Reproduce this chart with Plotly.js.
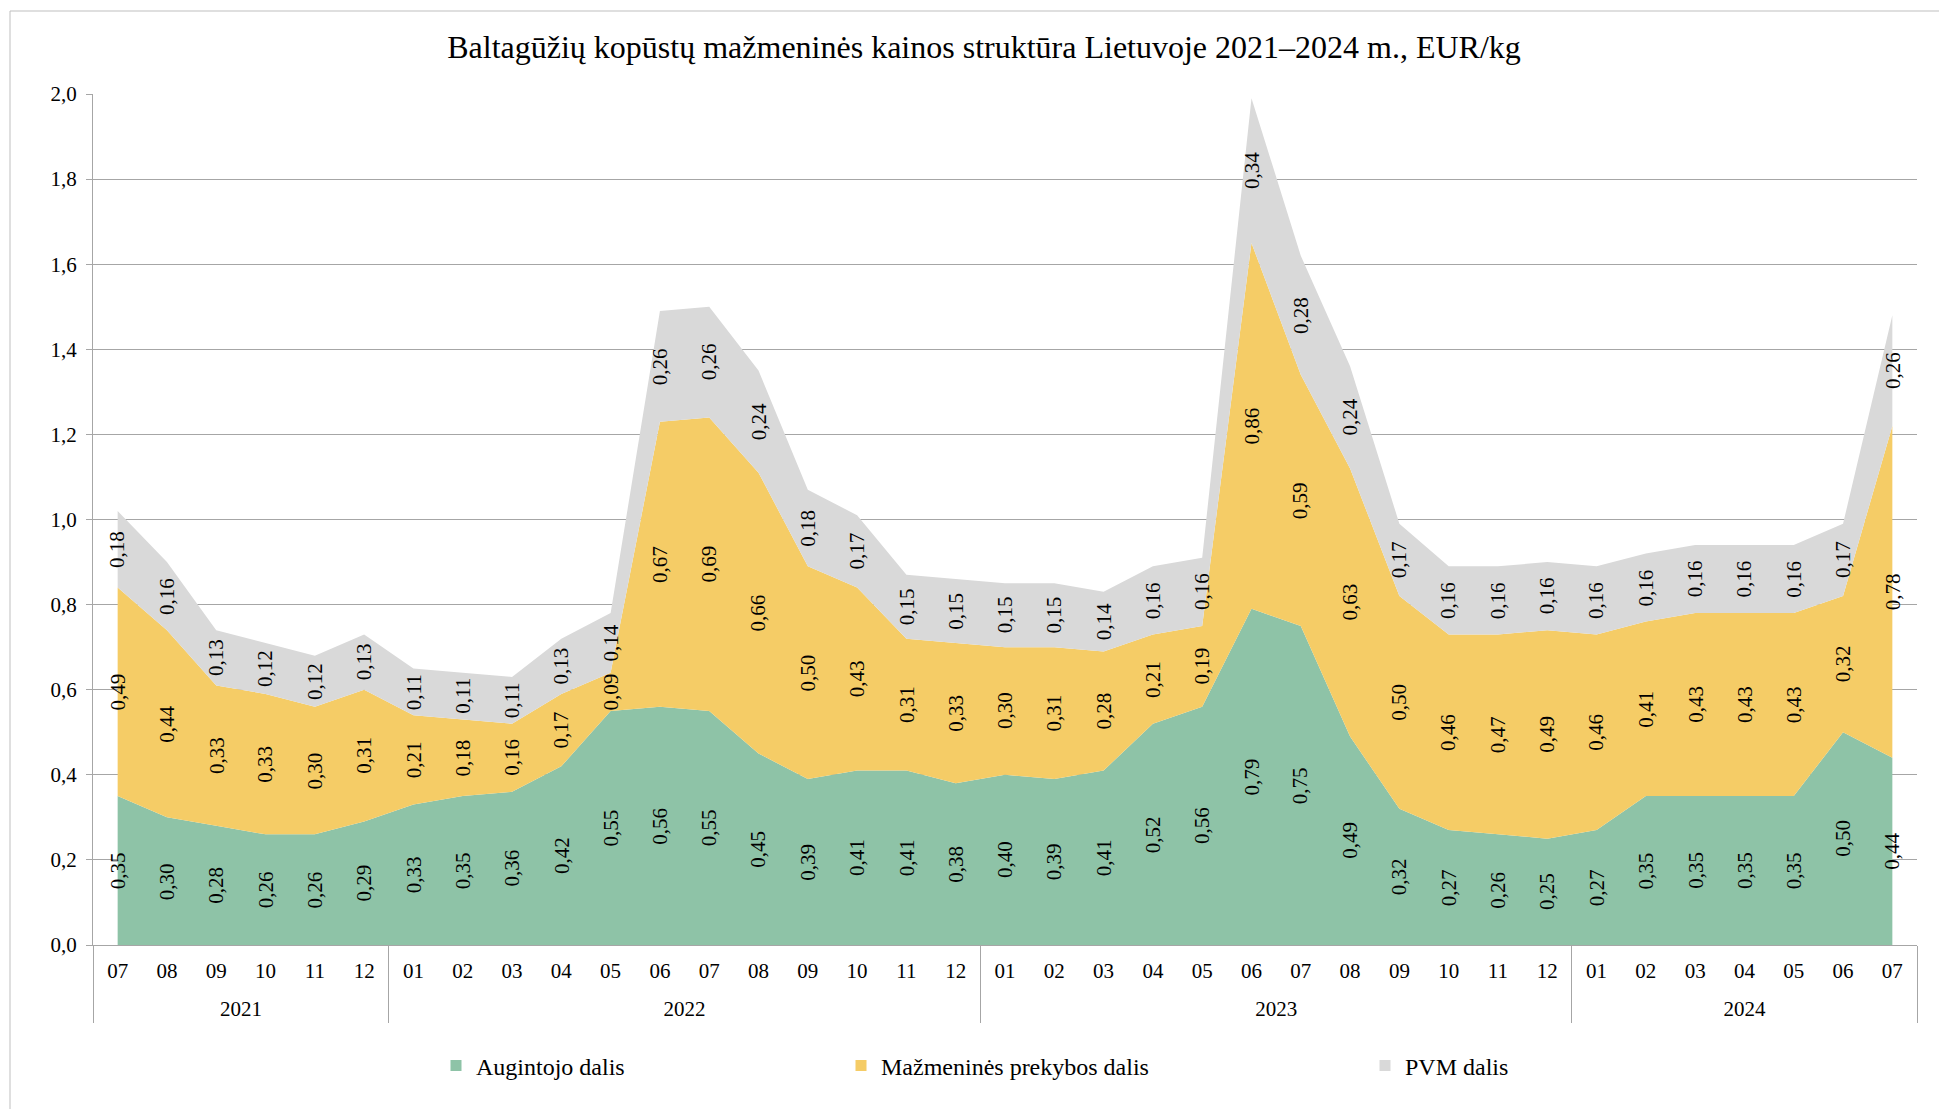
<!DOCTYPE html>
<html>
<head>
<meta charset="utf-8">
<script src="https://cdn.plot.ly/plotly-3.0.1.min.js"></script>
<style>
html, body { margin: 0; padding: 0; background: #fff; }
#plot { width: 1939px; height: 1109px; }
</style>
</head>
<body>
<div id="plot"></div>
<script>
// Metai ir mėnesių skaičius kiekvienais metais
const yearGroups = ['2021', '2022', '2023', '2024'];
const monthsInYear = [6, 12, 12, 7];
const months = [
    '07', '08', '09', '10', '11', '12',
    '01', '02', '03', '04', '05', '06', '07', '08', '09', '10', '11', '12',
    '01', '02', '03', '04', '05', '06', '07', '08', '09', '10', '11', '12',
    '01', '02', '03', '04', '05', '06', '07'
];

// Kainos dalys, EUR/kg
const augintojo = [
    0.35, 0.30, 0.28, 0.26, 0.26, 0.29,
    0.33, 0.35, 0.36, 0.42, 0.55, 0.56, 0.55, 0.45, 0.39, 0.41, 0.41, 0.38,
    0.40, 0.39, 0.41, 0.52, 0.56, 0.79, 0.75, 0.49, 0.32, 0.27, 0.26, 0.25,
    0.27, 0.35, 0.35, 0.35, 0.35, 0.50, 0.44
];
const mazmenine = [
    0.49, 0.44, 0.33, 0.33, 0.30, 0.31,
    0.21, 0.18, 0.16, 0.17, 0.09, 0.67, 0.69, 0.66, 0.50, 0.43, 0.31, 0.33,
    0.30, 0.31, 0.28, 0.21, 0.19, 0.86, 0.59, 0.63, 0.50, 0.46, 0.47, 0.49,
    0.46, 0.41, 0.43, 0.43, 0.43, 0.32, 0.78
];
const pvm = [
    0.18, 0.16, 0.13, 0.12, 0.12, 0.13,
    0.11, 0.11, 0.11, 0.13, 0.14, 0.26, 0.26, 0.24, 0.18, 0.17, 0.15, 0.15,
    0.15, 0.15, 0.14, 0.16, 0.16, 0.34, 0.28, 0.24, 0.17, 0.16, 0.16, 0.16,
    0.16, 0.16, 0.16, 0.16, 0.16, 0.17, 0.26
];

const seriesNames = ['Augintojo dalis', 'Mažmeninės prekybos dalis', 'PVM dalis'];
const seriesColors = ['#8EC3A7', '#F5CC66', '#D9D9D9'];

const FONT = 'Liberation Serif, Times New Roman, serif';
const AXIS_GRAY = '#A6A6A6';

function fmt(v) {
    return v.toFixed(2).replace('.', ',');
}

function initPlot() {
    const idx = months.map((m, i) => i);
    const series = [augintojo, mazmenine, pvm];

    // metų grupių centrai ir ribos
    const yearCenters = [];
    const yearBounds = [-0.5];
    let start = 0;
    monthsInYear.forEach(n => {
        yearCenters.push(start + (n - 1) / 2);
        start += n;
        yearBounds.push(start - 0.5);
    });

    const traces = [];
    // sukrauti plotai
    series.forEach((vals, k) => {
        traces.push({
            type: 'scatter',
            x: idx,
            y: vals,
            stackgroup: 'one',
            mode: 'lines',
            line: { width: 0, color: seriesColors[k] },
            fillcolor: seriesColors[k],
            showlegend: false,
            hoverinfo: 'skip'
        });
    });
    // legendos kvadratėliai (be taškų)
    const legendIds = ['legend', 'legend2', 'legend3'];
    const legendAxes = ['x2', 'x3', 'x3'];
    series.forEach((vals, k) => {
        traces.push({
            type: 'scatter',
            x: [0],
            y: [null],
            xaxis: legendAxes[k],
            mode: 'markers',
            name: seriesNames[k],
            marker: { symbol: 'square', size: 11, color: seriesColors[k] },
            showlegend: true,
            legend: legendIds[k],
            hoverinfo: 'skip'
        });
    });

    // duomenų žymės, pasuktos 90°
    const annotations = [];
    for (let i = 0; i < months.length; i++) {
        let base = 0;
        series.forEach(vals => {
            const v = vals[i];
            annotations.push({
                x: i,
                y: base + v / 2,
                xref: 'x',
                yref: 'y',
                text: fmt(v),
                showarrow: false,
                textangle: -90,
                font: { family: FONT, size: 21, color: '#000' }
            });
            base += v;
        });
    }

    const xRange = [-0.5, months.length - 0.5];

    const legendBase = {
        orientation: 'h',
        yanchor: 'middle',
        y: -0.142,
        xanchor: 'left',
        bgcolor: 'rgba(0,0,0,0)',
        font: { family: FONT, size: 24, color: '#000' }
    };

    const layout = {
        width: 1939,
        height: 1109,
        margin: { l: 93, r: 22, t: 94, b: 164 },
        paper_bgcolor: '#fff',
        plot_bgcolor: '#fff',
        separators: ', ',
        font: { family: FONT, size: 21, color: '#000' },
        title: {
            text: 'Baltagūžių kopūstų mažmeninės kainos struktūra Lietuvoje 2021–2024 m., EUR/kg',
            font: { family: FONT, size: 32, color: '#000' },
            xref: 'container',
            yref: 'container',
            x: 0.5075,
            xanchor: 'center',
            y: 1 - 47 / 1109,
            yanchor: 'middle'
        },
        // mėnesiai
        xaxis: {
            range: xRange,
            tickmode: 'array',
            tickvals: idx,
            ticktext: months,
            ticks: '',
            ticklabelstandoff: 7,
            showgrid: false,
            showline: true,
            linecolor: AXIS_GRAY,
            linewidth: 1,
            zeroline: false,
            tickfont: { family: FONT, size: 21, color: '#000' }
        },
        // metai
        xaxis2: {
            overlaying: 'x',
            anchor: 'y',
            side: 'bottom',
            range: xRange,
            tickmode: 'array',
            tickvals: yearCenters,
            ticktext: yearGroups,
            ticks: '',
            ticklabelstandoff: 49,
            showgrid: false,
            showline: false,
            zeroline: false,
            tickfont: { family: FONT, size: 21, color: '#000' }
        },
        // metų skirtukai
        xaxis3: {
            overlaying: 'x',
            anchor: 'y',
            side: 'bottom',
            range: xRange,
            tickmode: 'array',
            tickvals: yearBounds,
            ticks: 'outside',
            ticklen: 77,
            tickwidth: 1,
            tickcolor: AXIS_GRAY,
            showticklabels: false,
            showgrid: false,
            showline: false,
            zeroline: false
        },
        yaxis: {
            range: [0, 2],
            dtick: 0.2,
            tick0: 0,
            tickformat: '.1f',
            showgrid: true,
            gridcolor: AXIS_GRAY,
            gridwidth: 1,
            showline: true,
            linecolor: AXIS_GRAY,
            linewidth: 1,
            ticks: 'outside',
            ticklen: 6,
            tickcolor: AXIS_GRAY,
            ticklabelstandoff: 5,
            tickfont: { family: FONT, size: 21, color: '#000' },
            zeroline: false
        },
        legend: Object.assign({}, legendBase, { x: (436 - 93) / 1824 }),
        legend2: Object.assign({}, legendBase, { x: (841 - 93) / 1824 }),
        legend3: Object.assign({}, legendBase, { x: (1365 - 93) / 1824 }),
        annotations: annotations,
        shapes: [{
            // diagramos rėmelis
            type: 'rect',
            xref: 'paper',
            yref: 'paper',
            x0: (10 - 93) / 1824,
            x1: 1.2,
            y0: -0.4,
            y1: (945 - 11) / 851,
            line: { color: '#BFBFBF', width: 1 },
            fillcolor: 'rgba(0,0,0,0)',
            layer: 'below'
        }],
        hovermode: false
    };

    const config = {
        responsive: false,
        displayModeBar: false,
        staticPlot: true
    };

    Plotly.newPlot('plot', traces, layout, config);
}

document.addEventListener('DOMContentLoaded', initPlot);
</script>
</body>
</html>
